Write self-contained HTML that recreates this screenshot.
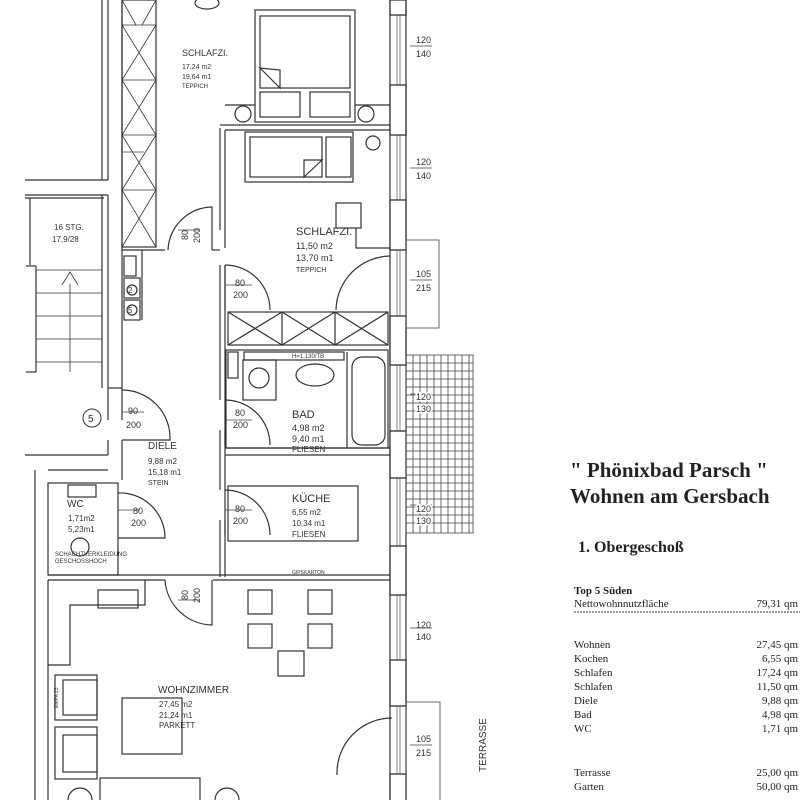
<!DOCTYPE html>
<html><head><meta charset="utf-8"><style>
html,body{margin:0;padding:0;background:#fff;}
svg{display:block}
.t{font-family:"Liberation Sans",sans-serif;fill:#333}
.s{font-family:"Liberation Serif",serif;fill:#222}
</style></head><body>
<svg width="800" height="800" viewBox="0 0 800 800" xmlns="http://www.w3.org/2000/svg">
<rect width="800" height="800" fill="#fff"/>
<g stroke="#333" stroke-width="1.2" fill="none">
<line x1="102" y1="0" x2="102" y2="180"/><line x1="108" y1="0" x2="108" y2="180"/>
<line x1="25" y1="180" x2="108" y2="180"/>
<line x1="25" y1="195" x2="108" y2="195"/><line x1="25" y1="198" x2="104" y2="198"/>
<line x1="102" y1="195" x2="102" y2="388"/><line x1="108" y1="195" x2="108" y2="388"/>
<line x1="30" y1="198" x2="30" y2="265"/>
<line x1="36" y1="266" x2="36" y2="372"/>
<line x1="26" y1="266" x2="36" y2="266"/><line x1="26" y1="372" x2="36" y2="372"/>
<g stroke-width="0.8">
<line x1="36" y1="270" x2="102" y2="270"/><line x1="36" y1="293" x2="102" y2="293"/><line x1="36" y1="316" x2="102" y2="316"/><line x1="36" y1="339" x2="102" y2="339"/><line x1="36" y1="362" x2="102" y2="362"/>
<line x1="70" y1="284" x2="70" y2="372"/><polyline points="62,285 70,272 78,285"/>
</g>
<line x1="122" y1="0" x2="122" y2="388"/>
<line x1="108" y1="388" x2="122" y2="388"/>
<rect x="122" y="0" width="34" height="247"/>
<g stroke-width="0.8">
<line x1="122" y1="25" x2="156" y2="25"/><line x1="122" y1="80" x2="156" y2="80"/><line x1="122" y1="135" x2="156" y2="135"/><line x1="122" y1="190" x2="156" y2="190"/>
<path d="M122 25 L156 80 M156 25 L122 80 M122 80 L156 135 M156 80 L122 135 M122 135 L156 190 M156 135 L122 190 M122 190 L156 247 M156 190 L122 247 M122 0 L136 25 M156 0 L142 25"/>
</g>
<line x1="122" y1="250" x2="165" y2="250"/><line x1="142" y1="250" x2="142" y2="320"/>
<rect x="124" y="256" width="12" height="20"/><rect x="124" y="278" width="16" height="20"/><rect x="124" y="300" width="16" height="20"/>
<circle cx="132" cy="290" r="5"/><circle cx="132" cy="310" r="5"/>
<path d="M168 250 A45 45 0 0 1 212 207 L212 250"/>
<line x1="212" y1="250" x2="220" y2="250"/>
<line x1="220" y1="128" x2="220" y2="230"/><line x1="225" y1="130" x2="225" y2="248"/>
<line x1="220" y1="265" x2="220" y2="400"/><line x1="225" y1="265" x2="225" y2="400"/>
<line x1="220" y1="430" x2="220" y2="490"/><line x1="225" y1="430" x2="225" y2="490"/>
<line x1="220" y1="520" x2="220" y2="577"/><line x1="225" y1="520" x2="225" y2="577"/>
<line x1="220" y1="125" x2="390" y2="125"/><line x1="225" y1="130" x2="390" y2="130"/>
<rect x="255" y="10" width="100" height="112"/><rect x="260" y="16" width="90" height="72"/>
<rect x="260" y="92" width="40" height="25"/><rect x="310" y="92" width="40" height="25"/>
<path d="M260 68 L280 88 L280 70 Z"/>
<circle cx="243" cy="114" r="8"/><circle cx="366" cy="114" r="8"/>
<line x1="225" y1="105" x2="255" y2="105"/><line x1="355" y1="105" x2="390" y2="105"/>
<ellipse cx="207" cy="3" rx="12" ry="6"/>
<rect x="245" y="132" width="108" height="50"/><rect x="250" y="137" width="72" height="40"/><rect x="326" y="137" width="25" height="40"/>
<path d="M304 177 L322 160 L304 160 Z"/>
<circle cx="373" cy="143" r="7"/>
<rect x="336" y="203" width="25" height="25"/>
<polyline points="356,228 356,248 390,248"/>
<path d="M225 265 A45 45 0 0 1 270 310"/><line x1="225" y1="265" x2="225" y2="310"/>
<path d="M336 310 A55 55 0 0 1 390 256"/>
<rect x="228" y="312" width="160" height="33"/>
<path d="M228 312 L282 345 M282 312 L228 345 M282 312 L335 345 M335 312 L282 345 M335 312 L388 345 M388 312 L335 345 M282 312 L282 345 M335 312 L335 345"/>
<rect x="226" y="350" width="162" height="98"/>
<rect x="228" y="352" width="10" height="26"/>
<rect x="244" y="352" width="100" height="8"/>
<rect x="243" y="360" width="33" height="40"/><circle cx="259" cy="378" r="10"/>
<ellipse cx="315" cy="375" rx="19" ry="11"/>
<line x1="347" y1="352" x2="347" y2="448"/>
<rect x="352" y="357" width="33" height="88" rx="10"/>
<path d="M225 400 A45 45 0 0 1 270 445"/><line x1="225" y1="400" x2="225" y2="445"/>
<line x1="225" y1="448" x2="390" y2="448"/><line x1="225" y1="455" x2="390" y2="455"/>
<rect x="228" y="486" width="130" height="55"/>
<path d="M225 490 A45 45 0 0 1 270 535"/><line x1="225" y1="490" x2="225" y2="535"/>
<line x1="108" y1="388" x2="108" y2="420"/><line x1="122" y1="388" x2="122" y2="420"/>
<line x1="108" y1="440" x2="108" y2="455"/><line x1="122" y1="440" x2="122" y2="480"/>
<path d="M122 390 A48 48 0 0 1 170 440 L122 440"/>
<line x1="25" y1="455" x2="108" y2="455"/><line x1="48" y1="470" x2="108" y2="470"/>
<line x1="35" y1="470" x2="35" y2="800"/>
<rect x="48" y="483" width="70" height="92"/>
<rect x="68" y="485" width="28" height="12"/><circle cx="80" cy="547" r="9"/>
<path d="M118 493 A45 45 0 0 1 165 538 L118 538"/>
<line x1="48" y1="575" x2="390" y2="575"/><line x1="48" y1="580" x2="165" y2="580"/><line x1="213" y1="580" x2="390" y2="580"/>
<path d="M165 580 A48 48 0 0 0 212 625 L212 580"/>
<line x1="48" y1="580" x2="48" y2="800"/>
<rect x="98" y="590" width="40" height="18"/><polyline points="145,580 145,605 70,605 70,665 48,665"/>
<rect x="248" y="590" width="24" height="24"/><rect x="308" y="590" width="24" height="24"/>
<rect x="248" y="624" width="24" height="24"/><rect x="308" y="624" width="24" height="24"/>
<rect x="278" y="651" width="26" height="25"/>
<rect x="122" y="698" width="60" height="56"/>
<rect x="55" y="675" width="42" height="45"/><rect x="63" y="680" width="34" height="35"/>
<rect x="55" y="727" width="42" height="52"/><rect x="63" y="735" width="34" height="37"/>
<rect x="100" y="778" width="100" height="30"/>
<circle cx="80" cy="800" r="12"/><circle cx="227" cy="800" r="12"/>
<path d="M337 775 A55 55 0 0 1 392 718"/>
<line x1="390" y1="0" x2="390" y2="800"/><line x1="406" y1="0" x2="406" y2="800"/>
<line x1="397" y1="0" x2="397" y2="800" stroke-width="0.6"/><line x1="400" y1="0" x2="400" y2="800" stroke-width="0.6"/>
</g>
<g fill="#fff" stroke="#222" stroke-width="1.2">
<rect x="390" y="0" width="16" height="15"/><rect x="390" y="85" width="16" height="50"/><rect x="390" y="200" width="16" height="50"/>
<rect x="390" y="316" width="16" height="49"/><rect x="390" y="431" width="16" height="47"/><rect x="390" y="546" width="16" height="49"/>
<rect x="390" y="660" width="16" height="46"/><rect x="390" y="774" width="16" height="30"/>
</g>
<g stroke="#444" stroke-width="0.8" fill="none">
<rect x="406" y="240" width="33" height="88"/><rect x="406" y="702" width="34" height="100"/>
<rect x="406" y="355" width="67" height="178"/>
<path d="M413 355V533M420 355V533M427 355V533M434 355V533M441 355V533M448 355V533M455 355V533M462 355V533M469 355V533
M406 363H473M406 371H473M406 379H473M406 387H473M406 395H473M406 403H473M406 411H473M406 419H473M406 427H473M406 435H473M406 443H473M406 451H473M406 459H473M406 467H473M406 475H473M406 483H473M406 491H473M406 499H473M406 507H473M406 515H473M406 523H473"/>
<path d="M410 46H432M410 168H432M410 280H432M410 394H432M410 505H432M410 628H432M410 745H432"/>
<path d="M122 152H144M178 230H200M122 412H144M225 285H252M225 420H252M118 510H140M225 510H252M178 600H200"/>
</g>
<g class="t" font-size="9">
<text x="416" y="43">120</text><text x="416" y="57">140</text>
<text x="416" y="165">120</text><text x="416" y="179">140</text>
<text x="416" y="277">105</text><text x="416" y="291">215</text>
<text x="416" y="400" style="paint-order:stroke" stroke="#fff" stroke-width="3">120</text><text x="416" y="412" style="paint-order:stroke" stroke="#fff" stroke-width="3">130</text>
<text x="416" y="512" style="paint-order:stroke" stroke="#fff" stroke-width="3">120</text><text x="416" y="524" style="paint-order:stroke" stroke="#fff" stroke-width="3">130</text>
<text x="416" y="628">120</text><text x="416" y="640">140</text>
<text x="416" y="742">105</text><text x="416" y="756">215</text>
<text x="235" y="286">80</text><text x="233" y="298">200</text>
<text x="235" y="416">80</text><text x="233" y="428">200</text>
<text x="235" y="512">80</text><text x="233" y="524">200</text>
<text x="128" y="414">90</text><text x="126" y="428">200</text>
<text x="133" y="514">80</text><text x="131" y="526">200</text>
<text transform="translate(188,240) rotate(-90)">80</text><text transform="translate(200,243) rotate(-90)">200</text>
<text transform="translate(188,600) rotate(-90)">80</text><text transform="translate(200,603) rotate(-90)">200</text>
<text x="182" y="56" font-size="9">SCHLAFZI.</text>
<text x="182" y="69" font-size="7">17,24 m2</text><text x="182" y="79" font-size="7">19,64 m1</text><text x="182" y="88" font-size="6">TEPPICH</text>
<text x="296" y="235" font-size="11">SCHLAFZI.</text>
<text x="296" y="249" font-size="9">11,50 m2</text><text x="296" y="261" font-size="9">13,70 m1</text><text x="296" y="272" font-size="7">TEPPICH</text>
<text x="54" y="230" font-size="8">16 STG.</text><text x="52" y="242" font-size="8">17,9/28</text>
<text x="128" y="293" font-size="8">2</text><text x="128" y="313" font-size="8">5</text>
<text x="292" y="418" font-size="11">BAD</text>
<text x="292" y="431" font-size="9">4,98 m2</text><text x="292" y="442" font-size="9">9,40 m1</text><text x="292" y="452" font-size="8">FLIESEN</text>
<text x="292" y="358" font-size="6">H=1,130/TB</text>
<text x="148" y="449" font-size="10">DIELE</text>
<text x="148" y="464" font-size="8">9,88 m2</text><text x="148" y="475" font-size="8">15,18 m1</text><text x="148" y="485" font-size="7">STEIN</text>
<text x="292" y="502" font-size="11">KÜCHE</text>
<text x="292" y="515" font-size="8">6,55 m2</text><text x="292" y="526" font-size="8">10,34 m1</text><text x="292" y="537" font-size="8">FLIESEN</text>
<text x="67" y="507" font-size="10">WC</text>
<text x="68" y="521" font-size="8">1,71m2</text><text x="68" y="532" font-size="8">5,23m1</text>
<text x="55" y="556" font-size="6">SCHACHTVERKLEIDUNG</text><text x="55" y="563" font-size="6">GESCHOSSHOCH</text>
<text x="292" y="574" font-size="5">GIPSKARTON</text>
<text x="158" y="693" font-size="10">WOHNZIMMER</text>
<text x="159" y="707" font-size="8">27,45 m2</text><text x="159" y="718" font-size="8">21,24 m1</text><text x="159" y="728" font-size="8">PARKETT</text>
<text transform="translate(58,708) rotate(-90)" font-size="5">EMPA 23</text>
<text transform="translate(486,772) rotate(-90)" font-size="10">TERRASSE</text>
</g>
<circle cx="92" cy="418" r="9" fill="none" stroke="#333"/><text x="88" y="422" class="t" font-size="10">5</text>
<g class="s">
<text x="570" y="477" font-size="21" font-weight="bold">" Phönixbad Parsch "</text>
<text x="570" y="503" font-size="21" font-weight="bold">Wohnen am Gersbach</text>
<text x="578" y="552" font-size="16" font-weight="bold">1. Obergeschoß</text>
<text x="574" y="594" font-size="11" font-weight="bold">Top 5 Süden</text>
<text x="574" y="607" font-size="11">Nettowohnnutzfläche</text><text x="798" y="607" font-size="11" text-anchor="end">79,31 qm</text>
<line x1="574" y1="612" x2="800" y2="612" stroke="#333" stroke-dasharray="2,1"/>
<g font-size="11">
<text x="574" y="648">Wohnen</text><text x="798" y="648" text-anchor="end">27,45 qm</text>
<text x="574" y="662">Kochen</text><text x="798" y="662" text-anchor="end">6,55 qm</text>
<text x="574" y="676">Schlafen</text><text x="798" y="676" text-anchor="end">17,24 qm</text>
<text x="574" y="690">Schlafen</text><text x="798" y="690" text-anchor="end">11,50 qm</text>
<text x="574" y="704">Diele</text><text x="798" y="704" text-anchor="end">9,88 qm</text>
<text x="574" y="718">Bad</text><text x="798" y="718" text-anchor="end">4,98 qm</text>
<text x="574" y="732">WC</text><text x="798" y="732" text-anchor="end">1,71 qm</text>
<text x="574" y="776">Terrasse</text><text x="798" y="776" text-anchor="end">25,00 qm</text>
<text x="574" y="790">Garten</text><text x="798" y="790" text-anchor="end">50,00 qm</text>
</g>
</g>
</svg>
</body></html>
